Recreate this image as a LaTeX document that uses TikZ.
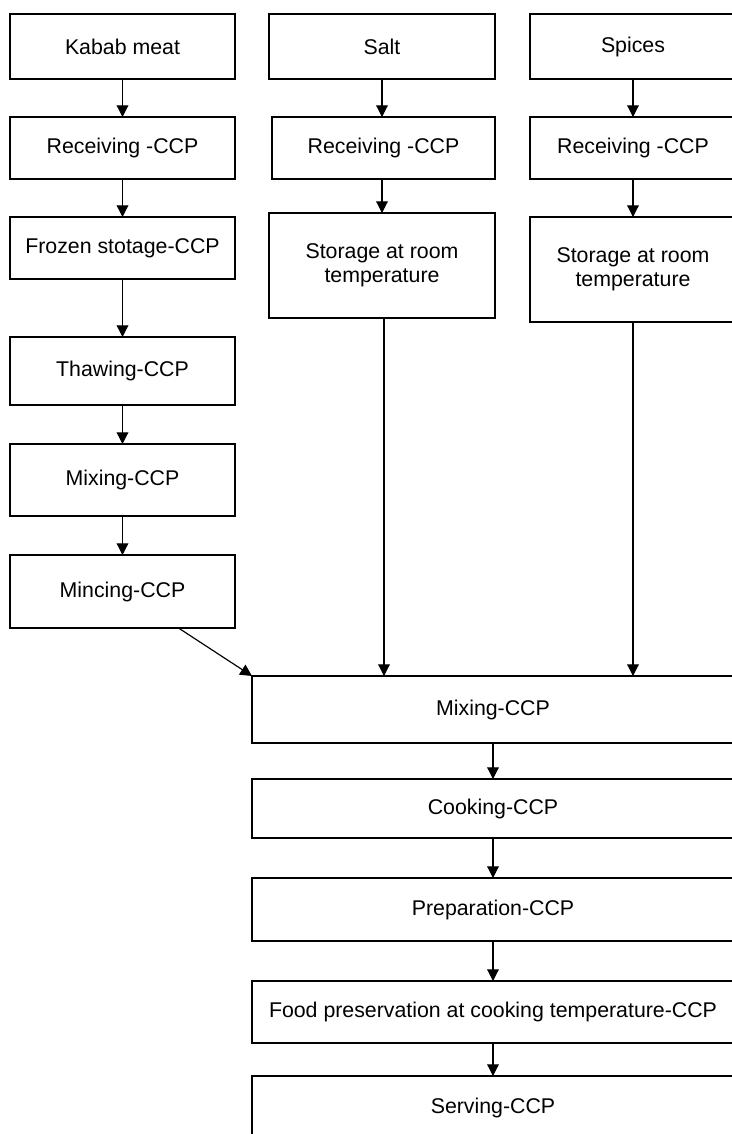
\documentclass[tikz,border=0pt]{standalone}
\usepackage{fontspec}
\setmainfont{Liberation Sans}
\usetikzlibrary{arrows.meta}

\begin{document}
\begin{tikzpicture}[x=0.03cm, y=-0.03cm,
    stepbox/.style={draw, line width=1.05pt, rectangle, inner sep=0pt, outer sep=0pt,
      align=center, font=\fontsize{18.2pt}{20.5pt}\selectfont},
    flow/.style={line width=1pt, -{Triangle[length=10pt, width=10pt]}}]
    \useasboundingbox (0, 0) rectangle (732, 1134);
    \clip (0, 0) rectangle (732, 1134);
    % kabab meat column
    \node[stepbox, minimum width=6.75cm, minimum height=1.95cm] (kabab) at (122.5, 46.5) {Kabab meat};
    \node[stepbox, minimum width=6.75cm, minimum height=1.86cm] (recvmeat) at (122.5, 148) {Receiving -CCP};
    \node[stepbox, minimum width=6.75cm, minimum height=1.86cm] (frozen) at (122.5, 248) {Frozen stotage-CCP};
    \node[stepbox, minimum width=6.75cm, minimum height=2.04cm] (thaw) at (122.5, 371) {Thawing-CCP};
    \node[stepbox, minimum width=6.75cm, minimum height=2.16cm] (mixmeat) at (122.5, 480) {Mixing-CCP};
    \node[stepbox, minimum width=6.75cm, minimum height=2.19cm] (mince) at (122.5, 591.5) {Mincing-CCP};
    % salt column
    \node[stepbox, minimum width=6.78cm, minimum height=1.95cm] (salt) at (382, 46.5) {Salt};
    \node[stepbox, minimum width=6.69cm, minimum height=1.86cm] (recvsalt) at (383.5, 148) {Receiving -CCP};
    \node[stepbox, minimum width=6.78cm, minimum height=3.15cm] (storesalt) at (382, 265.5) {Storage at room\\temperature};
    % spices column
    \node[stepbox, minimum width=6.18cm, minimum height=1.95cm] (spices) at (633, 46.5) {Spices};
    \node[stepbox, minimum width=6.18cm, minimum height=1.86cm] (recvspice) at (633, 148) {Receiving -CCP};
    \node[stepbox, minimum width=6.18cm, minimum height=3.15cm] (storespice) at (633, 269.5) {Storage at room\\temperature};
    % common steps
    \node[stepbox, minimum width=14.46cm, minimum height=2.01cm] (mixall) at (493, 709.5) {Mixing-CCP};
    \node[stepbox, minimum width=14.46cm, minimum height=1.77cm] (cook) at (493, 808.5) {Cooking-CCP};
    \node[stepbox, minimum width=14.46cm, minimum height=1.89cm] (prep) at (493, 909.5) {Preparation-CCP};
    \node[stepbox, minimum width=14.46cm, minimum height=1.86cm] (preserve) at (493, 1012) {Food preservation at cooking temperature-CCP};
    \node[stepbox, minimum width=14.46cm, minimum height=1.92cm] (serve) at (493, 1108) {Serving-CCP};

    \draw[flow] (kabab) -- (recvmeat);
    \draw[flow] (recvmeat) -- (frozen);
    \draw[flow] (frozen) -- (thaw);
    \draw[flow] (thaw) -- (mixmeat);
    \draw[flow] (mixmeat) -- (mince);
    \draw[flow] (salt.south) -- (salt.south |- recvsalt.north);
    \draw[flow] (salt.south |- recvsalt.south) -- (storesalt.north);
    \draw[flow] (spices) -- (recvspice);
    \draw[flow] (recvspice) -- (storespice);
    \draw[flow] ([xshift=1.68cm]mince.south) -- (mixall.north west);
    \draw[flow] ([xshift=0.06cm]storesalt.south) -- ([xshift=0.06cm]storesalt.south |- mixall.north);
    \draw[flow] (storespice.south) -- (storespice.south |- mixall.north);
    \draw[flow] (mixall) -- (cook);
    \draw[flow] (cook) -- (prep);
    \draw[flow] (prep) -- (preserve);
    \draw[flow] (preserve) -- (serve);
\end{tikzpicture}
\end{document}
